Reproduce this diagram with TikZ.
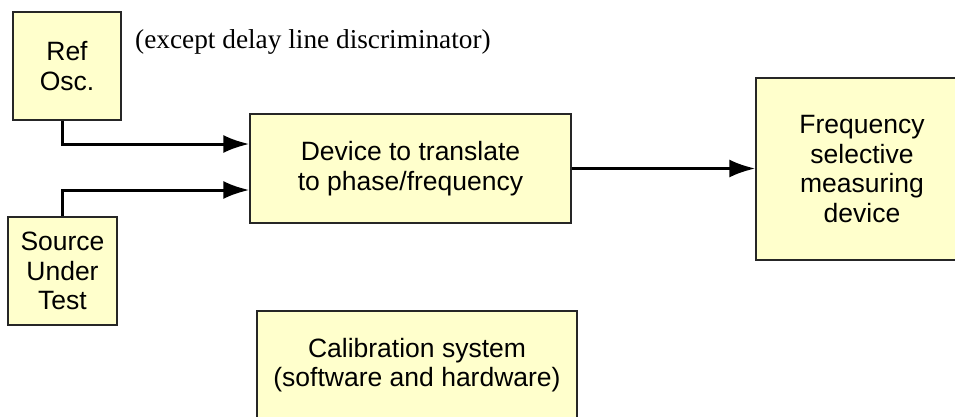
\documentclass[tikz,border=0pt]{standalone}
\usepackage{fontspec}
\setmainfont{Liberation Serif}
\setsansfont{Liberation Sans}
\usetikzlibrary{positioning,calc,arrows.meta}
\definecolor{boxfill}{HTML}{FFFFCC}
\tikzset{
	blk/.style={draw=black!85, line width=1.3pt, fill=boxfill, align=center, inner sep=0pt,
		font=\sffamily\fontsize{26.5}{29.7}\selectfont},
	sig/.style={line width=3pt, -{Latex[length=26pt,width=18pt]}}
}

\begin{document}
\begin{tikzpicture}[x=1pt,y=-1pt]
	\useasboundingbox (0,0) rectangle (955,416);
	\begin{scope}
		\node[blk, minimum width=108pt, minimum height=108pt] (ref)  at (67, 66)    {Ref\\Osc.};
		\node[blk, minimum width=109pt, minimum height=108pt] (src)  at (62.5, 271) {Source\\Under\\Test};
		\node[blk, minimum width=321pt, minimum height=109pt] (dev)  at (410.5, 168.5) {Device to translate\\to phase/frequency};
		\node[blk, minimum width=212pt, minimum height=182pt] (freq) at (862, 169)  {Frequency\\selective\\measuring\\device};
		\node[blk, minimum width=320pt, minimum height=108pt] (cal)  at (417, 365)  {Calibration system\\(software and hardware)};
		\node[anchor=base west, inner sep=0pt, font=\fontsize{27.3}{31}\selectfont] (note) at (135, 48) {(except delay line discriminator)};

		\draw[sig] (ref.south -| src.north) |- ([yshift=24.5pt]dev.west);
		\draw[sig] (src.north) |- ([yshift=-21.5pt]dev.west);
		\draw[sig] (dev.east) -- (dev.east -| freq.west);
	\end{scope}
\end{tikzpicture}
\end{document}
